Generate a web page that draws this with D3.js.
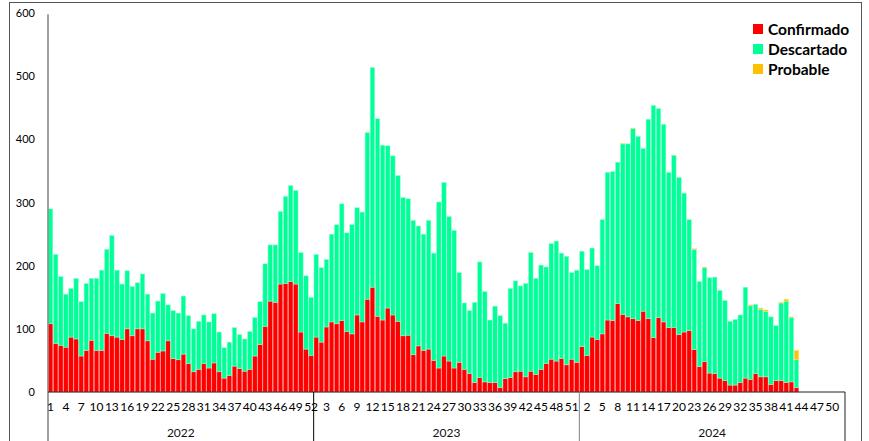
<!DOCTYPE html>
<html>
<head>
<meta charset="utf-8">
<script src="https://cdn.jsdelivr.net/npm/d3@7"></script>
<style>
  body { margin: 0; background: #fff; }
  svg { display: block; font-family: Lato, "Liberation Sans", sans-serif; }
  .tick text { fill: #000; }
</style>
</head>
<body>
<div id="chart"></div>
<script>
// data (weekly counts by epi week)

const years = ["2022", "2023", "2024"];
const weeksPerYear = 52;

const confirmado2022 = [108,77,74,71,87,84,57,66,82,66,66,93,89,87,83,100,89,100,100,81,52,63,65,81,53,51,60,45,32,36,45,38,46,32,22,26,41,37,33,36,57,75,104,144,142,171,172,175,171,95,68,58];
const descartado2022 = [182,141,109,84,77,96,86,106,98,114,127,133,159,106,88,92,78,73,87,74,73,81,91,57,76,74,92,76,68,76,77,73,78,63,48,53,61,54,51,60,61,68,99,89,91,115,138,152,148,126,116,92];
const probable2022 = [];

const confirmado2023 = [87,79,103,111,108,113,96,92,122,111,147,166,120,114,133,122,112,89,90,59,73,66,68,50,38,57,49,38,47,36,29,15,23,16,15,15,7,21,23,32,33,24,33,28,36,45,52,49,53,43,52,47];
const descartado2023 = [131,118,107,139,157,185,156,173,170,174,264,348,313,277,257,252,231,219,216,213,190,184,204,170,263,275,229,218,142,105,100,127,183,143,99,121,114,88,141,144,135,148,188,152,165,153,183,190,167,172,137,146];
const probable2023 = [];

const confirmado2024 = [72,58,87,83,92,114,113,140,123,119,116,113,128,116,86,118,111,102,102,91,95,97,67,40,48,30,29,22,18,11,11,15,22,20,29,24,24,12,18,18,15,16,7];
const descartado2024 = [151,136,141,117,181,234,236,224,270,274,301,292,258,316,368,331,313,246,273,249,220,176,159,135,149,151,153,139,127,101,104,107,144,117,110,107,104,107,87,123,129,102,44];
const probable2024 = [0,0,0,0,0,0,0,0,1,0,1,0,0,0,0,0,0,0,0,0,0,0,1,0,1,0,0,0,0,0,0,0,0,1,0,2,2,0,0,1,3,1,15];

const series = ["Confirmado", "Descartado", "Probable"];
const colors = ["#ff0000", "#00ff99", "#ffc000"];
const edgeColors = ["#ff8a8a", "#9dffd2", "#ffe08a"];
const yTicks = [0, 100, 200, 300, 400, 500, 600];

// config

const width = 869;
const height = 441;
const plot = { left: 48, right: 845, top: 13.2, bottom: 392 };

// build one row per week

const byYear = [
  [confirmado2022, descartado2022, probable2022],
  [confirmado2023, descartado2023, probable2023],
  [confirmado2024, descartado2024, probable2024]
];

let rows = [];
years.forEach((yr, yi) => {
  for (let w = 1; w <= weeksPerYear; w++) {
    const s = byYear[yi];
    rows.push({
      key: yr + "-" + w,
      year: yr,
      week: w,
      Confirmado: s[0][w - 1] || 0,
      Descartado: s[1][w - 1] || 0,
      Probable: s[2][w - 1] || 0
    });
  }
});

const stacked = d3.stack().keys(series)(rows);

// svg

const svg = d3.select("#chart")
  .append("svg")
  .attr("width", width)
  .attr("height", height)
  .attr("viewBox", [0, 0, width, height]);

// outer frame

svg.append("rect")
  .attr("x", 9.5)
  .attr("y", 2.5)
  .attr("width", 852)
  .attr("height", 460)
  .attr("fill", "none")
  .attr("stroke", "#555")
  .attr("stroke-width", 1);

// scales

const x = d3.scaleBand()
  .domain(rows.map(d => d.key))
  .range([plot.left, plot.right])
  .paddingInner(0.12)
  .paddingOuter(0.06);

const y = d3.scaleLinear()
  .domain([0, 600])
  .range([plot.bottom, plot.top]);

// bars

svg.append("g")
  .selectAll("g")
  .data(stacked)
  .join("g")
  .attr("fill", (d, i) => colors[i])
  .attr("stroke", (d, i) => edgeColors[i])
  .attr("stroke-width", 0.5)
  .selectAll("rect")
  .data(d => d.filter(p => p[1] > p[0]))
  .join("rect")
  .attr("x", d => x(d.data.key))
  .attr("width", x.bandwidth())
  .attr("y", d => y(d[1]))
  .attr("height", d => y(d[0]) - y(d[1]));

// y axis

const yAxis = svg.append("g")
  .attr("transform", `translate(${plot.left - 13},0)`)
  .call(d3.axisLeft(y).tickValues(yTicks).tickSize(0).tickPadding(0));
yAxis.select(".domain").remove();
yAxis.selectAll("text")
  .attr("font-size", 11)
  .attr("font-family", "Lato, sans-serif")
  .attr("fill", "#222");

svg.append("line")
  .attr("x1", plot.left).attr("x2", plot.left)
  .attr("y1", plot.top + 1).attr("y2", height)
  .attr("stroke", "#808080")
  .attr("stroke-width", 1.5);

// x axis with week labels every third category

const xAxis = svg.append("g")
  .attr("transform", `translate(0,${plot.bottom})`)
  .call(d3.axisBottom(x)
    .tickValues(rows.filter((d, i) => i % 3 === 0).map(d => d.key))
    .tickFormat(k => k.split("-")[1])
    .tickSize(0)
    .tickPadding(10));
xAxis.select(".domain").remove();
xAxis.selectAll("text")
  .attr("font-size", 12)
  .attr("font-family", "Lato, sans-serif")
  .attr("fill", "#111");

svg.append("line")
  .attr("x1", plot.left).attr("x2", plot.right)
  .attr("y1", plot.bottom).attr("y2", plot.bottom)
  .attr("stroke", "#222")
  .attr("stroke-width", 1);

// year groups and separators

const groupW = (plot.right - plot.left) / years.length;
const sepColors = ["#000", "#808080", "#222"];

years.forEach((yr, yi) => {
  const x1 = plot.left + groupW * (yi + 1);
  svg.append("line")
    .attr("x1", x1).attr("x2", x1)
    .attr("y1", plot.bottom).attr("y2", height)
    .attr("stroke", sepColors[yi])
    .attr("stroke-width", 1);

  svg.append("text")
    .attr("x", plot.left + groupW * (yi + 0.5))
    .attr("y", 437)
    .attr("text-anchor", "middle")
    .attr("font-size", 12)
    .attr("font-family", "Lato, sans-serif")
    .attr("fill", "#111")
    .text(yr);
});

// legend

const legend = svg.append("g")
  .attr("transform", "translate(753,24)");

series.forEach((s, i) => {
  legend.append("rect")
    .attr("x", 0)
    .attr("y", i * 20)
    .attr("width", 10)
    .attr("height", 10)
    .attr("fill", colors[i]);
  legend.append("text")
    .attr("x", 15)
    .attr("y", i * 20 + 10.5)
    .attr("font-size", 15.5)
    .attr("font-weight", "bold")
    .attr("font-family", "Lato, sans-serif")
    .attr("fill", "#000")
    .text(s);
});
</script>
</body>
</html>
